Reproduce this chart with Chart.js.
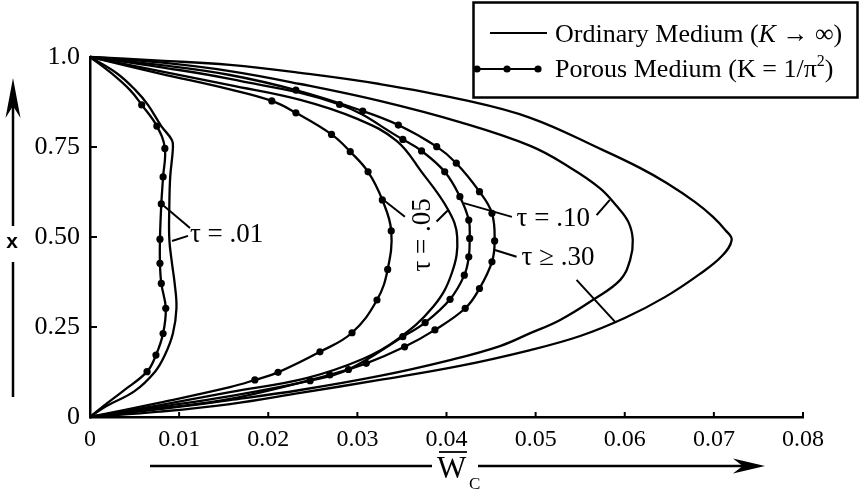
<!DOCTYPE html>
<html><head><meta charset="utf-8">
<script src="https://cdn.jsdelivr.net/npm/chart.js@4.4.0/dist/chart.umd.min.js"></script>
<style>html,body{margin:0;padding:0;background:#fff;}#wrap{position:relative;width:862px;height:490px;}</style>
</head><body><div id="wrap"><canvas id="c" width="862" height="490"></canvas></div>
<script>
// ---- tick labels ----
const xTickValues = [0, 0.01, 0.02, 0.03, 0.04, 0.05, 0.06, 0.07, 0.08];
const xTickLabels = ['0', '0.01', '0.02', '0.03', '0.04', '0.05', '0.06', '0.07', '0.08'];
const yTickValues = [0, 0.25, 0.5, 0.75, 1.0];
const yTickLabels = ['0', '0.25', '0.50', '0.75', '1.0'];

// ---- Ordinary medium (K -> infinity), W_c vs x ----
const ord01W = [0, 0.0018, 0.0050, 0.0073, 0.0084, 0.0093, 0.0097, 0.0095, 0.0092, 0.0089, 0.0089, 0.0090, 0.0093, 0.0092, 0.0080, 0.0065, 0.0051, 0.0030, 0];
const ord01X = [0, 0.030, 0.072, 0.126, 0.172, 0.232, 0.302, 0.371, 0.427, 0.494, 0.584, 0.667, 0.746, 0.769, 0.808, 0.867, 0.908, 0.955, 1];
const ord05W = [0, 0.00785, 0.0157, 0.0243, 0.0306, 0.0344, 0.0385, 0.0406, 0.0412, 0.0402, 0.0372, 0.0344, 0.0300, 0.0236, 0.0157, 0.00785, 0];
const ord05X = [0, 0.033, 0.069, 0.108, 0.161, 0.214, 0.306, 0.400, 0.500, 0.575, 0.681, 0.767, 0.828, 0.881, 0.922, 0.961, 1];
const ord10W = [0, 0.00785, 0.0157, 0.0236, 0.0325, 0.0404, 0.0460, 0.0494, 0.0527, 0.0564, 0.0595, 0.0606, 0.0609, 0.0604, 0.0591, 0.0572, 0.0538, 0.0494, 0.0415, 0.0325, 0.0236, 0.0157, 0.00785, 0];
const ord10X = [0, 0.022, 0.047, 0.075, 0.114, 0.158, 0.197, 0.233, 0.269, 0.325, 0.381, 0.436, 0.492, 0.542, 0.586, 0.636, 0.694, 0.753, 0.819, 0.878, 0.925, 0.961, 0.985, 1];
const ord30W = [0, 0.00785, 0.0157, 0.0236, 0.0325, 0.0415, 0.0494, 0.0550, 0.0600, 0.0645, 0.0684, 0.0709, 0.0720, 0.0713, 0.0699, 0.0679, 0.0647, 0.0617, 0.0575, 0.0494, 0.0415, 0.0325, 0.0236, 0.0157, 0.00785, 0];
const ord30X = [0, 0.015, 0.036, 0.067, 0.103, 0.142, 0.186, 0.225, 0.275, 0.333, 0.397, 0.447, 0.492, 0.519, 0.556, 0.597, 0.650, 0.692, 0.742, 0.831, 0.883, 0.925, 0.956, 0.978, 0.990, 1];

// ---- Porous medium (K = 1/pi^2): marked points, plus unmarked path points ----
const por01DotW = [0.0064, 0.0074, 0.0082, 0.0085, 0.0080, 0.00785, 0.00785, 0.0080, 0.0082, 0.0084, 0.0075, 0.0058];
const por01DotX = [0.126, 0.172, 0.232, 0.302, 0.371, 0.427, 0.494, 0.592, 0.667, 0.746, 0.808, 0.867];
const por01PathW = [0, 0.0015, 0.0037, 0.0045, 0.0024, 0];
const por01PathX = [0, 0.030, 0.072, 0.908, 0.955, 1];
const por05DotW = [0.0185, 0.0211, 0.0258, 0.0294, 0.0322, 0.0334, 0.0338, 0.0328, 0.0312, 0.0292, 0.0271, 0.0231, 0.0204];
const por05DotX = [0.103, 0.124, 0.181, 0.234, 0.325, 0.410, 0.517, 0.603, 0.681, 0.737, 0.785, 0.845, 0.878];
const por05PathW = [0, 0.00785, 0.0157, 0.0157, 0.00785, 0];
const por05PathX = [0, 0.040, 0.083, 0.910, 0.954, 1];
const por10DotW = [0.0247, 0.0290, 0.0351, 0.0376, 0.0404, 0.0420, 0.0425, 0.0426, 0.0425, 0.0415, 0.0398, 0.0372, 0.0351, 0.0280];
const por10DotX = [0.101, 0.132, 0.223, 0.262, 0.327, 0.394, 0.445, 0.496, 0.547, 0.612, 0.681, 0.739, 0.771, 0.868];
const por10PathW = [0, 0.00785, 0.0157, 0.0157, 0.00785, 0];
const por10PathX = [0, 0.028, 0.058, 0.939, 0.972, 1];
const por30DotW = [0.0269, 0.0310, 0.0353, 0.0387, 0.0421, 0.0437, 0.0451, 0.0454, 0.0451, 0.0437, 0.0411, 0.0389, 0.0346, 0.0306, 0.0231];
const por30DotX = [0.117, 0.149, 0.195, 0.242, 0.302, 0.357, 0.431, 0.489, 0.566, 0.626, 0.705, 0.751, 0.811, 0.850, 0.908];
const por30PathW = [0, 0.00785, 0.0157, 0.0157, 0.00785, 0];
const por30PathX = [0, 0.024, 0.050, 0.950, 0.978, 1];

// ---- curve labels (data units) ----
const labelTexts = ['τ = .01', 'τ = .05', 'τ = .10', 'τ ≥ .30'];
const labelW = [0.01122, 0.03735, 0.04786, 0.04842];
const labelX = [0.506, 0.506, 0.550, 0.442];
const labelRot = [0, -90, 0, 0];
// leader lines: [W1, x1, W2, x2]
const leaders = [
  [0.01122, 0.525, 0.0083, 0.586], [0.0110, 0.503, 0.0092, 0.489],
  [0.03533, 0.556, 0.03283, 0.605], [0.03889, 0.543, 0.04019, 0.575],
  [0.04734, 0.556, 0.04195, 0.594], [0.05684, 0.561, 0.05833, 0.603],
  [0.04786, 0.445, 0.04543, 0.464], [0.05459, 0.381, 0.05889, 0.265]
];

function pts(W, X) { return W.map((w, i) => ({ x: w, y: X[i] })); }
function merged(W1, X1, W2, X2) { return pts(W1, X1).concat(pts(W2, X2)).sort((a, b) => a.y - b.y); }

const lineStyle = { borderColor: '#000', borderWidth: 2.3, pointRadius: 0, tension: 0.4, clip: false, fill: false };
const dotStyle = { showLine: false, pointRadius: 3.6, pointBackgroundColor: '#000', pointBorderWidth: 0, clip: false, borderColor: '#000' };

const datasets = [
  Object.assign({ label: 'ord01', data: pts(ord01W, ord01X) }, lineStyle),
  Object.assign({ label: 'ord05', data: pts(ord05W, ord05X) }, lineStyle),
  Object.assign({ label: 'ord10', data: pts(ord10W, ord10X) }, lineStyle),
  Object.assign({ label: 'ord30', data: pts(ord30W, ord30X) }, lineStyle),
  Object.assign({ label: 'por01', data: merged(por01DotW, por01DotX, por01PathW, por01PathX) }, lineStyle),
  Object.assign({ label: 'por05', data: merged(por05DotW, por05DotX, por05PathW, por05PathX) }, lineStyle),
  Object.assign({ label: 'por10', data: merged(por10DotW, por10DotX, por10PathW, por10PathX) }, lineStyle),
  Object.assign({ label: 'por30', data: merged(por30DotW, por30DotX, por30PathW, por30PathX) }, lineStyle),
  Object.assign({ label: 'por01dots', data: pts(por01DotW, por01DotX) }, dotStyle),
  Object.assign({ label: 'por05dots', data: pts(por05DotW, por05DotX) }, dotStyle),
  Object.assign({ label: 'por10dots', data: pts(por10DotW, por10DotX) }, dotStyle),
  Object.assign({ label: 'por30dots', data: pts(por30DotW, por30DotX) }, dotStyle)
];

const SERIF = '"Liberation Serif", "Times New Roman", serif';

function arrowHead(ctx, tx, ty, dx, dy, len, half) {
  const bx = tx - dx * len, by = ty - dy * len;
  const nx = -dy, ny = dx;
  ctx.beginPath();
  ctx.moveTo(tx, ty);
  ctx.lineTo(bx + nx * half, by + ny * half);
  ctx.lineTo(tx - dx * len * 0.7, ty - dy * len * 0.7);
  ctx.lineTo(bx - nx * half, by - ny * half);
  ctx.closePath();
  ctx.fill();
}

const deco = {
  id: 'deco',
  afterDraw(chart) {
    const ctx = chart.ctx, sx = chart.scales.x, sy = chart.scales.y;
    const X = v => sx.getPixelForValue(v), Y = v => sy.getPixelForValue(v);
    ctx.save();
    ctx.strokeStyle = '#000'; ctx.fillStyle = '#000';
    // inward tick marks
    ctx.lineWidth = 2;
    xTickValues.forEach(v => { if (v === 0) return; ctx.beginPath(); ctx.moveTo(X(v), Y(0)); ctx.lineTo(X(v), Y(0) - 5); ctx.stroke(); });
    yTickValues.forEach(v => { if (v === 0) return; ctx.beginPath(); ctx.moveTo(X(0), Y(v)); ctx.lineTo(X(0) + 7, Y(v)); ctx.stroke(); });

    // leaders
    ctx.lineWidth = 2;
    leaders.forEach(l => { ctx.beginPath(); ctx.moveTo(X(l[0]), Y(l[1])); ctx.lineTo(X(l[2]), Y(l[3])); ctx.stroke(); });
    // curve labels
    ctx.font = '27px ' + SERIF;
    ctx.textBaseline = 'middle';
    labelTexts.forEach((t, i) => {
      const px = X(labelW[i]), py = Y(labelX[i]);
      if (labelRot[i]) {
        ctx.save(); ctx.translate(px, py); ctx.rotate(labelRot[i] * Math.PI / 180);
        ctx.textAlign = 'center'; ctx.fillText(t, 0, 0); ctx.restore();
      } else {
        ctx.textAlign = 'left'; ctx.fillText(t, px, py);
      }
    });

    // legend box
    ctx.lineWidth = 2.5;
    ctx.strokeRect(473.5, 2.5, 384, 95);
    ctx.lineWidth = 2.2;
    ctx.beginPath(); ctx.moveTo(490, 33); ctx.lineTo(547, 33); ctx.stroke();
    ctx.beginPath(); ctx.moveTo(477, 69); ctx.lineTo(538, 69); ctx.stroke();
    [477, 507, 538].forEach(px => { ctx.beginPath(); ctx.arc(px, 69, 3.6, 0, Math.PI * 2); ctx.fill(); });
    ctx.textBaseline = 'alphabetic'; ctx.textAlign = 'left';
    const reg = '26px ' + SERIF, ita = 'italic 26px ' + SERIF, sup = '16px ' + SERIF;
    let cx = 555;
    const seg = (t, f, y) => { ctx.font = f; ctx.fillText(t, cx, y); cx += ctx.measureText(t).width; };
    seg('Ordinary Medium (', reg, 42); seg('K', ita, 42); seg(' → ∞)', reg, 42);
    cx = 555;
    seg('Porous Medium (K = 1/π', reg, 77); seg('2', sup, 66); seg(')', reg, 77);

    // y axis title with arrow
    ctx.lineWidth = 2.5;
    ctx.beginPath(); ctx.moveTo(13, 397); ctx.lineTo(13, 262); ctx.stroke();
    ctx.beginPath(); ctx.moveTo(13, 226); ctx.lineTo(13, 100); ctx.stroke();
    arrowHead(ctx, 13, 78, 0, -1, 40, 7.5);
    ctx.font = 'bold 21px "Liberation Sans", Arial, sans-serif';
    ctx.textAlign = 'center'; ctx.textBaseline = 'middle';
    ctx.fillText('x', 12, 242);

    // x axis title with arrow
    ctx.lineWidth = 2.5;
    ctx.beginPath(); ctx.moveTo(150, 466); ctx.lineTo(432, 466); ctx.stroke();
    ctx.beginPath(); ctx.moveTo(478, 466); ctx.lineTo(745, 466); ctx.stroke();
    arrowHead(ctx, 765, 466, 1, 0, 32, 7.5);
    ctx.font = '31px ' + SERIF; ctx.textAlign = 'left'; ctx.textBaseline = 'alphabetic';
    ctx.fillText('W', 437, 478);
    ctx.lineWidth = 1.8;
    ctx.beginPath(); ctx.moveTo(439, 452); ctx.lineTo(467, 452); ctx.stroke();
    ctx.font = '17px ' + SERIF;
    ctx.fillText('C', 469, 489);
    ctx.restore();
  }
};

new Chart(document.getElementById('c'), {
  type: 'line',
  data: { datasets },
  plugins: [deco],
  options: {
    responsive: false, animation: false, devicePixelRatio: 1, events: [],
    layout: { padding: { top: 57, right: 59, left: 0, bottom: 0 } },
    plugins: { legend: { display: false }, tooltip: { enabled: false } },
    scales: {
      x: {
        type: 'linear', min: 0, max: 0.08,
        afterBuildTicks: s => { s.ticks = xTickValues.map(v => ({ value: v })); },
        afterFit: s => { s.height = 73; },
        grid: { display: false },
        border: { display: true, color: '#000', width: 2.5 },
        ticks: { callback: (v, i) => xTickLabels[i], font: { family: 'Liberation Serif', size: 24 }, color: '#000', padding: 0, maxRotation: 0, autoSkip: false }
      },
      y: {
        type: 'linear', min: 0, max: 1,
        afterBuildTicks: s => { s.ticks = yTickValues.map(v => ({ value: v })); },
        afterFit: s => { s.width = 90; },
        grid: { display: false },
        border: { display: true, color: '#000', width: 2.5 },
        ticks: { callback: (v, i) => yTickLabels[i], font: { family: 'Liberation Serif', size: 26 }, color: '#000', padding: 2, autoSkip: false }
      }
    }
  }
});
</script>
</body></html>
